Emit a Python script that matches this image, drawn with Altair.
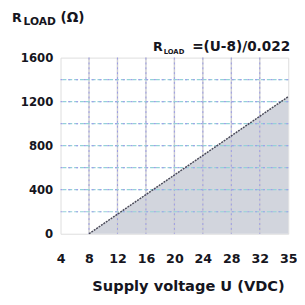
import altair as alt
import pandas as pd

# data
voltage = [8, 36]          # U (VDC); right edge of the chart
r_load = [0, 1245]         # R_LOAD (Ohm)
x_ticks = [4, 8, 12, 16, 20, 24, 28, 32, 36]
last_label = "35"
y_ticks = [0, 400, 800, 1200, 1600]
x_grid = [8, 12, 16, 20, 24, 28, 32]
y_grid = [200, 400, 600, 800, 1000, 1200, 1400]

df = pd.DataFrame({"U": voltage, "R": r_load})
xg = pd.DataFrame({"U": x_grid})
yg = pd.DataFrame({"R": y_grid})

label_expr = f"datum.value == {x_ticks[-1]} ? '{last_label}' : datum.label"

FONT = "DejaVu Sans"
TXT = "#151520"

xs = alt.Scale(domain=[4, 36], nice=False, zero=False)
ys = alt.Scale(domain=[0, 1600], nice=False)

x_enc = alt.X("U:Q", scale=xs,
              axis=alt.Axis(values=x_ticks, tickCount=len(x_ticks) * 2, labelExpr=label_expr,
                            title="Supply voltage U (VDC)",
                            titleFontSize=15, titleFont=FONT, titleColor=TXT, titleFontWeight="bold",
                            titlePadding=13, titleX=131,
                            labelFontSize=13, labelFont=FONT, labelColor=TXT, labelPadding=20,
                            labelFontWeight="bold", labelOverlap=False, labelBound=False,
                            ticks=False, domain=False, grid=False, labelFlush=False))
y_enc = alt.Y("R:Q", scale=ys,
              axis=alt.Axis(values=y_ticks, tickCount=len(y_ticks) * 2, title=None,
                            labelFontSize=12, labelFont=FONT, labelColor=TXT, labelFontWeight="bold",
                            labelPadding=8, ticks=False, domain=False, grid=False, labelOverlap=False,
                            format="d"))

area = alt.Chart(df).mark_area(color="#d2d5dd", opacity=1).encode(x=x_enc, y=y_enc)

vgray = alt.Chart(xg).mark_rule(color="#cfcfd2", strokeWidth=1.5).encode(x=alt.X("U:Q", scale=xs))
vblue = alt.Chart(xg).mark_rule(color="#9a9ae6", strokeWidth=1, strokeDash=[2, 3]).encode(x=alt.X("U:Q", scale=xs))
hteal = alt.Chart(yg).mark_rule(color="#94d2d8", strokeWidth=1.2, strokeDash=[4, 2]).encode(y=alt.Y("R:Q", scale=ys))
hblue = alt.Chart(yg).mark_rule(color="#a0a0ea", strokeWidth=1.2, strokeDash=[2, 6]).encode(y=alt.Y("R:Q", scale=ys))

line = alt.Chart(df).mark_line(color="#4a4a58", strokeWidth=1.5, strokeDash=[2, 1]).encode(x="U:Q", y="R:Q")


def txt(s, size, x, y, align="left"):
    return alt.Chart(pd.DataFrame({"t": [s]})).mark_text(
        font=FONT, fontSize=size, fontWeight="bold", color=TXT, align=align, baseline="alphabetic"
    ).encode(text="t:N", x=alt.value(x), y=alt.value(y))


labels = [
    txt("R", 13, -50, -37),
    txt("LOAD", 11, -38, -34),
    txt("(Ω)", 14, 0, -37),
    txt("R", 13, 95, -7),
    txt("LOAD", 7, 106, -4),
    txt("=(U-8)/0.022", 14, 236, -7, align="right"),
]

chart = alt.layer(area, vgray, vblue, hteal, hblue, line, *labels).properties(
    width=234, height=181,
    autosize=alt.AutoSizeParams(type="none"),
    padding={"left": 54, "top": 47, "right": 9, "bottom": 60},
).configure_view(stroke="#c4c4c8", strokeWidth=1.5).configure(background="white")

chart.save("out.html", embed_options={"renderer": "svg", "actions": False})
